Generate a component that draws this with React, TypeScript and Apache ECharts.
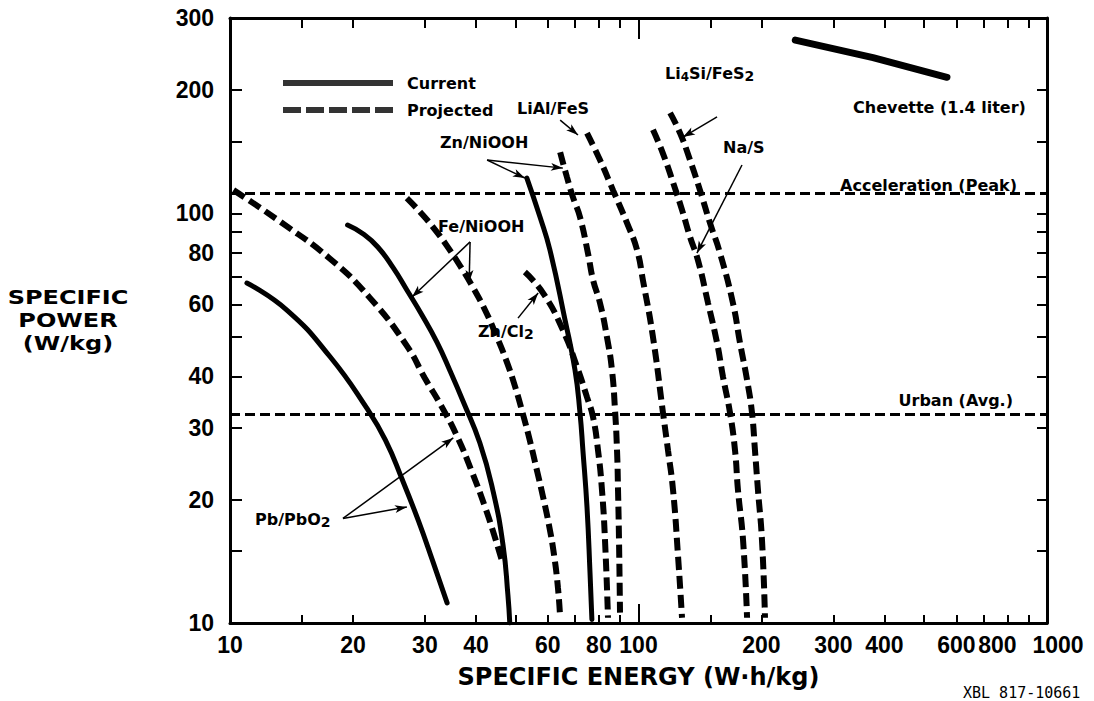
import React, { useEffect, useRef } from 'react';
import * as echarts from 'echarts';

// ---------- axis ticks / labels (raw values) ----------
const xTickLabels = [10, 20, 30, 40, 60, 80, 100, 200, 300, 400, 600, 800, 1000];
const xMinorTicks = [15, 20, 30, 40, 50, 60, 70, 80, 90, 150, 200, 300, 400, 500, 600, 700, 800, 900];
const xMajorTicks = [100];
const yTickLabels = [10, 20, 30, 40, 60, 80, 100, 200, 300];
const yTicks = [15, 20, 30, 40, 50, 60, 70, 80, 90, 100, 150, 200];

// ---------- curves: [specific energy Wh/kg, specific power W/kg] ----------
const pbCurrent = [[11.0, 67.6], [13.8, 58], [17.6, 44.6], [21.6, 33.5], [24.0, 28.0], [26.4, 22.4], [28.9, 17.8], [31.4, 14.1], [34.0, 11.2]];
const pbProjected = [[10.2, 114], [13.3, 95.3], [17.6, 77.4], [22.0, 62.2], [27.1, 47.5], [30.0, 39.6], [33.0, 33.7], [36.0, 28.5], [39.1, 23.4], [42.1, 19.2], [44.5, 16.2], [46.6, 13.9]];
const feCurrent = [[19.4, 93.7], [21.2, 89.1], [23.0, 82.8], [25.1, 73.6], [27.1, 65.0], [29.5, 56.5], [32.1, 48.5], [34.6, 41.2], [37.2, 34.8], [40.9, 27.5], [44.0, 21.1], [46.6, 15.5], [47.9, 11.7], [48.4, 10]];
const feProjected = [[27.1, 109], [29.2, 100.8], [31.4, 92.6], [34.0, 83.2], [36.6, 74.4], [39.3, 66.1], [42.1, 58.1], [44.8, 50.5], [47.4, 43.9], [49.9, 37.7], [52.2, 32.2], [54.3, 27.7], [56.4, 23.6], [58.4, 20.3], [60.4, 17.3], [62.1, 14.7], [63.5, 12.2], [64.3, 10.3]];
const znNiCurrent = [[53.3, 122], [57.4, 98], [60.7, 81.4], [66.1, 54.9], [69.9, 41.5], [71.9, 32.6], [73.1, 26.4], [74.8, 19.2], [76.1, 13.2], [76.9, 10.2]];
const znNiProjected = [[64.3, 141], [66.8, 122.7], [69.1, 109.6], [71.9, 98], [75.2, 80], [77.4, 68.8], [80.5, 60.4], [83.7, 49.9], [86.1, 41.5], [87.6, 33.1], [88.6, 26.4], [89.1, 21.1], [89.6, 15.9], [90.1, 10.6]];
const znCl2 = [[52.7, 71.9], [58.4, 63.9], [65.3, 51.9], [70.7, 42.2], [74.8, 35.6], [77.4, 31.8], [79.6, 26.4], [81.4, 21.1], [82.8, 15.9], [84.2, 10.3]];
const liAlFeS = [[74.8, 157], [80.5, 135], [86.6, 114], [93.7, 94.8], [99.2, 81.4], [102.5, 68.8], [108.5, 49.9], [114.8, 32.6], [118.1, 26.4], [121.5, 21.1], [125, 14.5], [127.8, 10.3]];
const naS = [[108.5, 160], [114.8, 140], [121.5, 119], [127.8, 102], [133.7, 87.6], [139.8, 76.9], [148, 60.4], [155.7, 48.3], [161, 39.9], [167.5, 32.6], [172.3, 26.4], [175.2, 21.1], [180.3, 15.9], [184.4, 10.3]];
const li4SiFeS2 = [[119.5, 176], [126.4, 157], [133.7, 135], [141.4, 114], [149.6, 94.8], [158.3, 80], [170.3, 60.4], [177.2, 48.3], [184.4, 39.2], [189.6, 32.6], [192.8, 26.4], [196.1, 21.1], [200.6, 15.9], [204, 10.3]];
const chevette = [[242, 265], [375, 240], [569, 215]];

// reference power levels (W/kg)
const referenceLevels = [112, 32.7];

// annotation arrows: [tail, tip] in data units
const annotationArrows = [
  [[64.3, 169], [71.1, 155.4]],   // LiAl/FeS
  [[42.6, 135], [65.3, 129]],     // Zn/NiOOH -> projected
  [[42.6, 135], [52.7, 122]],     // Zn/NiOOH -> current
  [[155.7, 172], [128.5, 153.6]], // Li4Si/FeS2
  [[179.2, 131.3], [139, 80]],    // Na/S
  [[38.7, 85.2], [27.9, 62.5]],   // Fe/NiOOH -> current
  [[38.7, 85.2], [38.5, 68]],     // Fe/NiOOH -> projected
  [[50.7, 55.5], [56.8, 63.9]],   // Zn/Cl2
  [[18.9, 18.0], [35.2, 28.3]],   // Pb/PbO2 -> projected
  [[18.9, 18.0], [27.1, 19.2]],   // Pb/PbO2 -> current
];

const L = (v: number) => Math.log10(v);
const toLog = (pts: number[][]) => pts.map(([x, y]) => [L(x), L(y)]);

const BLACK = '#000';
const LABEL_FONT = 'Liberation Sans';
const TEXT_FONT = 'DejaVu Sans';

const solidSeries = (name: string, data: number[][], width = 5, extra: any = {}) => ({
  type: 'line',
  name,
  data: toLog(data),
  symbol: 'none',
  showSymbol: false,
  smooth: 0.5,
  silent: true,
  lineStyle: { color: BLACK, width, type: 'solid', cap: 'round' },
  itemStyle: { color: BLACK },
  emphasis: { disabled: true },
  z: 3,
  ...extra,
});

const dashedSeries = (name: string, data: number[][]) => ({
  type: 'line',
  name,
  data: toLog(data),
  symbol: 'none',
  showSymbol: false,
  smooth: 0.5,
  silent: true,
  lineStyle: { color: BLACK, width: 6, type: [13, 6], cap: 'butt' },
  itemStyle: { color: BLACK },
  emphasis: { disabled: true },
  z: 3,
});

const currentIcon = 'path://M0,0h110v6h-110z';
const projectedIcon = 'path://M0,0h18v6h-18z M23,0h18v6h-18z M46,0h18v6h-18z M69,0h18v6h-18z M92,0h18v6h-18z';

const boldText = (size: number) => ({ fontFamily: TEXT_FONT, fontWeight: 'bold', fontSize: size, fill: BLACK });

const label = (x: number, y: number, text: string, align = 'left') => ({
  type: 'text',
  x,
  y,
  silent: true,
  style: { text, ...boldText(16), align, verticalAlign: 'middle' },
});

const subLabel = (x: number, y: number, text: string, subSize = 14) => ({
  type: 'text',
  x,
  y,
  silent: true,
  style: {
    text,
    align: 'left',
    verticalAlign: 'middle',
    rich: {
      a: { fontFamily: TEXT_FONT, fontWeight: 'bold', fontSize: 16, color: BLACK, lineHeight: 20 },
      s: { fontFamily: TEXT_FONT, fontWeight: 'bold', fontSize: subSize, color: BLACK, lineHeight: 8, verticalAlign: 'bottom' },
      t: { fontFamily: TEXT_FONT, fontWeight: 'bold', fontSize: 12, color: BLACK, lineHeight: 8, verticalAlign: 'bottom' },
    },
  },
});

const fmtX = (v: number) => {
  const n = Math.round(Math.pow(10, v));
  if (n === 800) return '{l|800}';
  if (n === 1000) return '{r|1000}';
  return String(n);
};
const fmtY = (v: number) => String(Math.round(Math.pow(10, v)));

const tickLabelStyle = { color: BLACK, fontFamily: LABEL_FONT, fontWeight: 'bold', fontSize: 23 };

export default function App() {
  const ref = useRef<HTMLDivElement>(null);

  useEffect(() => {
    if (!ref.current) return;
    const chart = echarts.init(ref.current, null, { renderer: 'svg' });

    const xMin = L(10), xMax = L(1000), yMin = L(10), yMax = L(300);

    const baseX = (position: string) => ({
      type: 'value',
      position,
      min: xMin,
      max: xMax,
      splitLine: { show: false },
      axisLine: { show: true, onZero: false, lineStyle: { color: BLACK, width: 3 } },
    });
    const baseY = (position: string) => ({
      type: 'value',
      position,
      min: yMin,
      max: yMax,
      splitLine: { show: false },
      axisLine: { show: true, onZero: false, lineStyle: { color: BLACK, width: 3 } },
    });

    const option: any = {
      animation: false,
      backgroundColor: '#fff',
      grid: { left: 230, right: 47, top: 18, bottom: 78, outerBoundsMode: 'none' },
      legend: {
        left: 278,
        top: 70,
        orient: 'vertical',
        itemWidth: 110,
        itemHeight: 6,
        itemGap: 11,
        selectedMode: false,
        textStyle: { color: BLACK, fontFamily: TEXT_FONT, fontWeight: 'bold', fontSize: 16, padding: [0, 0, 0, 9] },
        data: [
          { name: 'Current', icon: currentIcon },
          { name: 'Projected', icon: projectedIcon },
        ],
      },
      xAxis: [
        {
          ...baseX('bottom'),
          axisTick: { show: true, inside: true, length: 8, lineStyle: { color: BLACK, width: 2 }, customValues: xMinorTicks.map(L) },
          axisLabel: {
            show: true,
            margin: 10,
            customValues: xTickLabels.map(L),
            formatter: fmtX,
            ...tickLabelStyle,
            rich: {
              l: { ...tickLabelStyle, padding: [0, 20, 0, 0] },
              r: { ...tickLabelStyle, padding: [0, 0, 0, 22] },
            },
          },
          name: 'SPECIFIC ENERGY (W·h/kg)',
          nameLocation: 'middle',
          nameGap: 42,
          nameTextStyle: { color: BLACK, fontFamily: TEXT_FONT, fontWeight: 'bold', fontSize: 24 },
        },
        {
          ...baseX('bottom'),
          axisLine: { show: false },
          axisTick: { show: true, inside: true, length: 19, lineStyle: { color: BLACK, width: 2 }, customValues: xMajorTicks.map(L) },
          axisLabel: { show: false },
        },
        {
          ...baseX('top'),
          axisTick: { show: true, inside: true, length: 10, lineStyle: { color: BLACK, width: 2 }, customValues: xMinorTicks.map(L) },
          axisLabel: { show: false },
        },
        {
          ...baseX('top'),
          axisLine: { show: false },
          axisTick: { show: true, inside: true, length: 21, lineStyle: { color: BLACK, width: 2 }, customValues: xMajorTicks.map(L) },
          axisLabel: { show: false },
        },
      ],
      yAxis: [
        {
          ...baseY('left'),
          axisTick: { show: true, inside: true, length: 12, lineStyle: { color: BLACK, width: 2 }, customValues: yTicks.map(L) },
          axisLabel: { show: true, margin: 16, customValues: yTickLabels.map(L), formatter: fmtY, ...tickLabelStyle },
        },
        {
          ...baseY('right'),
          axisTick: { show: true, inside: true, length: 10, lineStyle: { color: BLACK, width: 2 }, customValues: yTicks.map(L) },
          axisLabel: { show: false },
        },
      ],
      series: [
        { type: 'scatter', name: 'Current', data: [], itemStyle: { color: BLACK }, silent: true },
        { type: 'scatter', name: 'Projected', data: [], itemStyle: { color: BLACK }, silent: true },
        solidSeries('Pb/PbO2 current', pbCurrent, 5, {
          markLine: {
            silent: true,
            animation: false,
            symbol: ['none', 'arrow'],
            label: { show: false },
            emphasis: { disabled: true },
            lineStyle: { color: BLACK, width: 1.5, type: 'solid' },
            data: annotationArrows.map(([a, b]) => [
              { coord: [L(a[0]), L(a[1])], symbol: 'none' },
              { coord: [L(b[0]), L(b[1])], symbol: 'arrow', symbolSize: [6, 12] },
            ]),
          },
        }),
        dashedSeries('Pb/PbO2 projected', pbProjected),
        solidSeries('Fe/NiOOH current', feCurrent),
        dashedSeries('Fe/NiOOH projected', feProjected),
        solidSeries('Zn/NiOOH current', znNiCurrent),
        dashedSeries('Zn/NiOOH projected', znNiProjected),
        dashedSeries('Zn/Cl2 projected', znCl2),
        dashedSeries('LiAl/FeS projected', liAlFeS),
        dashedSeries('Na/S projected', naS),
        dashedSeries('Li4Si/FeS2 projected', li4SiFeS2),
        solidSeries('Chevette (1.4 liter)', chevette, 7, {
          smooth: false,
          markLine: {
            silent: true,
            animation: false,
            symbol: ['none', 'none'],
            label: { show: false },
            emphasis: { disabled: true },
            lineStyle: { color: BLACK, width: 3, type: [10, 5] },
            data: referenceLevels.map((v) => ({ yAxis: L(v) })),
          },
        }),
      ],
      graphic: [
        {
          type: 'text',
          x: 68,
          y: 320,
          scaleX: 1.2,
          originX: 0,
          originY: 0,
          silent: true,
          style: {
            text: 'SPECIFIC\nPOWER\n(W/kg)',
            ...boldText(20),
            lineHeight: 23,
            align: 'center',
            verticalAlign: 'middle',
          },
        },
        label(517, 108, 'LiAl/FeS'),
        label(440, 142, 'Zn/NiOOH'),
        subLabel(665, 73, '{a|Li}{t|4}{a|Si/FeS}{s|2}'),
        label(853, 107, 'Chevette (1.4 liter)'),
        label(723, 147, 'Na/S'),
        label(1017, 185, 'Acceleration (Peak)', 'right'),
        label(1013, 400, 'Urban (Avg.)', 'right'),
        label(438, 226, 'Fe/NiOOH'),
        subLabel(478, 331, '{a|Zn/Cl}{s|2}'),
        subLabel(255, 519, '{a|Pb/PbO}{s|2}'),
        {
          type: 'text',
          x: 963,
          y: 693,
          silent: true,
          style: { text: 'XBL 817-10661', fontFamily: 'DejaVu Sans Mono', fontSize: 15, fill: BLACK, align: 'left', verticalAlign: 'middle' },
        },
      ],
    };

    chart.setOption(option);
    return () => chart.dispose();
  }, []);

  return (
    <div
      ref={ref}
      style={{ position: 'absolute', left: 0, top: 0, width: 1094, height: 701, background: '#fff' }}
    />
  );
}
